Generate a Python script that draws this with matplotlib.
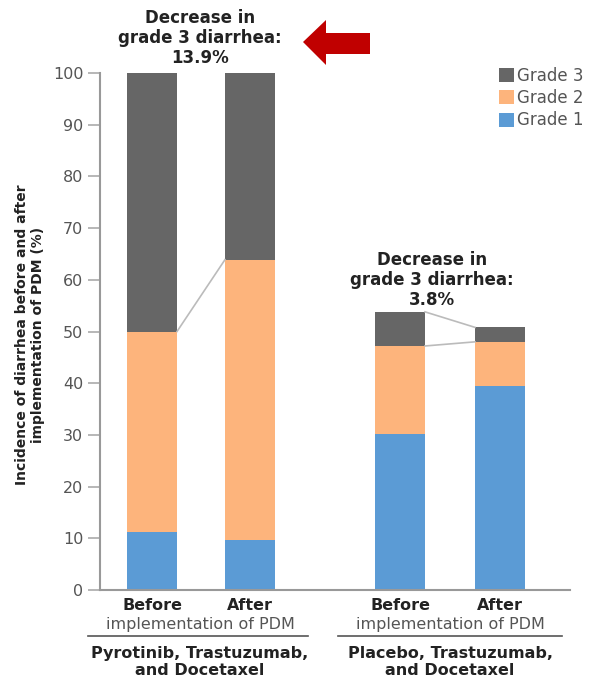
import matplotlib
matplotlib.use("Agg")
import matplotlib.pyplot as plt
from matplotlib.patches import Polygon
from matplotlib.lines import Line2D
from matplotlib.transforms import Affine2D

W, H = 598, 679

# stacked incidence (%) per bar
bars = ["Before", "After", "Before", "After"]
grade1 = [11.2, 9.7, 30.2, 39.5]
grade2 = [38.8, 54.2, 17.0, 8.5]
grade3 = [50.0, 36.1, 6.6, 2.8]
decrease = ["13.9%", "3.8%"]
regimens = ["Pyrotinib, Trastuzumab,\nand Docetaxel", "Placebo, Trastuzumab,\nand Docetaxel"]
yticks = list(range(0, 101, 10))

c1, c2, c3 = "#5B9BD5", "#FDB47C", "#666666"
txt = "#222222"
grey = "#555555"

plt.rcParams['font.family'] = ['DejaVu Sans']
fig = plt.figure(figsize=(W / 100, H / 100), dpi=100)

def fx(px):
    return px / W

def fy(py):
    return 1 - py / H

ax = fig.add_axes([fx(100), fy(590), (570 - 100) / W, (590 - 73) / H])
xpos = [1.04, 3.0, 6.0, 8.0]
bw = 1.0
ax.bar(xpos, grade1, bw, color=c1, label="Grade 1")
ax.bar(xpos, grade2, bw, bottom=grade1, color=c2, label="Grade 2")
b12 = [a + b for a, b in zip(grade1, grade2)]
ax.bar(xpos, grade3, bw, bottom=b12, color=c3, label="Grade 3")
tops = [a + b for a, b in zip(b12, grade3)]

# connector lines between before/after bars
lc = "#BBBBBB"
for i in (0, 2):
    xa, xb = xpos[i] + bw / 2, xpos[i + 1] - bw / 2
    ax.plot([xa, xb], [b12[i], b12[i + 1]], color=lc, lw=1.2, zorder=1)
    if abs(tops[i] - tops[i + 1]) > 0.5:
        ax.plot([xa, xb], [tops[i], tops[i + 1]], color=lc, lw=1.2, zorder=1)

ax.set_xlim(0, 9.4)
ax.set_ylim(0, 100)
ax.set_yticks(yticks)
ax.set_xticks([])
for s in ("top", "right"):
    ax.spines[s].set_visible(False)
for s in ("left", "bottom"):
    ax.spines[s].set_color("#999999")
    ax.spines[s].set_linewidth(1.5)
ax.tick_params(axis="y", length=9, width=1.2, color="#AAAAAA", labelsize=11.5,
               labelcolor=grey, pad=3)

# legend (reverse order, Grade 3 on top)
h, l = ax.get_legend_handles_labels()
fig.legend(h[::-1], l[::-1], loc="upper left", bbox_to_anchor=(fx(484), fy(52)),
           frameon=False, fontsize=12, labelcolor=grey, handlelength=0.9,
           handleheight=0.9, handletextpad=0.2, labelspacing=0.25)

fig.text(fx(30), fy(335), "Incidence of diarrhea before and after\nimplementation of PDM (%)",
         rotation=90, ha="center", va="center", fontsize=10, fontweight="bold",
         color=txt, linespacing=1.2)

# decrease annotations
fig.text(fx(200), fy(38), "Decrease in\ngrade 3 diarrhea:\n" + decrease[0], ha="center",
         va="center", fontsize=12, fontweight="bold", color=txt, linespacing=1.15)
fig.text(fx(432), fy(280), "Decrease in\ngrade 3 diarrhea:\n" + decrease[1], ha="center",
         va="center", fontsize=12, fontweight="bold", color=txt, linespacing=1.15)

# red arrow pointing at the first annotation
pix = Affine2D().scale(1 / W, -1 / H).translate(0, 1) + fig.transFigure
arrow = Polygon([(303, 42), (326, 20), (326, 33), (370, 33), (370, 54),
                 (326, 54), (326, 65)], closed=True, facecolor="#C00000",
                edgecolor="none", transform=pix)
fig.add_artist(arrow)

# group labels under the axis
for g, (cx, x0, x1) in enumerate([(200, 88, 308), (450, 338, 562)]):
    for k in range(2):
        xb = 100 + xpos[2 * g + k] * 50
        fig.text(fx(xb), fy(605), bars[2 * g + k], ha="center", va="center",
                 fontsize=11.5, fontweight="bold", color=txt)
    fig.text(fx(cx), fy(624), "implementation of PDM", ha="center", va="center",
             fontsize=11.5, color=grey)
    fig.add_artist(Line2D([fx(x0), fx(x1)], [fy(636), fy(636)], color="#555555",
                          lw=1.2, transform=fig.transFigure))
    fig.text(fx(cx), fy(662), regimens[g], ha="center", va="center", fontsize=11.5,
             fontweight="bold", color=txt, linespacing=1.2)

fig.savefig("out.png", dpi=100)
